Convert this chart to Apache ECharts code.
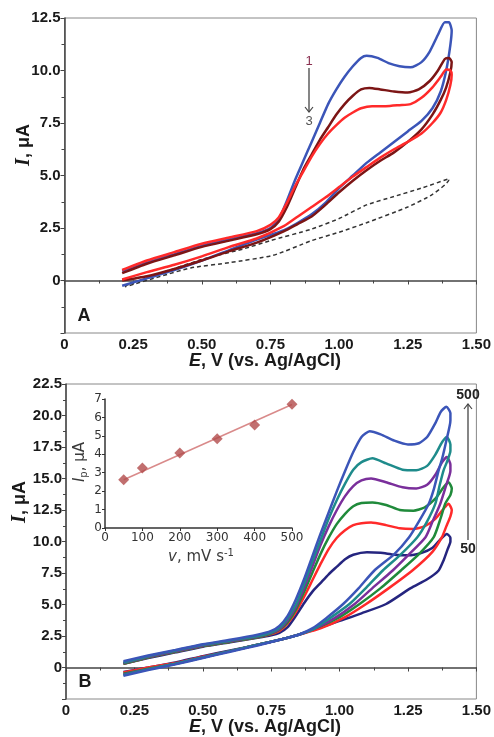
<!DOCTYPE html>
<html><head><meta charset="utf-8">
<script src="https://cdn.jsdelivr.net/npm/echarts/dist/echarts.min.js"></script>
<style>html,body{margin:0;padding:0;background:#fff}#c{width:494px;height:737px}</style>
</head><body><div id="c"></div>
<script>
// ---------- Panel A: CVs, 3 successive scans + blank ----------
const a1Fwd = [[0.21,0.45],[0.3,0.85],[0.4,1.25],[0.5,1.65],[0.6,1.95],[0.7,2.25],[0.75,2.5],[0.78,2.9],[0.81,3.8],[0.84,4.8],[0.87,5.7],[0.9,6.6],[0.93,7.5],[0.96,8.4],[0.99,9.1],[1.02,9.7],[1.05,10.2],[1.08,10.6],[1.1,10.7],[1.14,10.6],[1.18,10.35],[1.22,10.2],[1.26,10.15],[1.3,10.4],[1.33,10.9],[1.36,11.7],[1.385,12.3],[1.4,12.3],[1.41,11.9]];
const a1Rev = [[1.405,11.2],[1.39,10.0],[1.37,9.0],[1.34,8.2],[1.3,7.6],[1.25,7.1],[1.2,6.6],[1.15,6.1],[1.1,5.6],[1.05,5.0],[1.0,4.4],[0.95,3.7],[0.9,3.15],[0.85,2.75],[0.8,2.4],[0.7,1.95],[0.6,1.45],[0.5,0.95],[0.4,0.5],[0.3,0.1],[0.21,-0.25]];
const a2Fwd = [[0.21,0.35],[0.3,0.8],[0.4,1.2],[0.5,1.6],[0.6,1.9],[0.7,2.2],[0.75,2.45],[0.78,2.8],[0.81,3.5],[0.84,4.4],[0.87,5.3],[0.9,6.0],[0.93,6.7],[0.96,7.3],[0.99,7.9],[1.02,8.4],[1.05,8.8],[1.08,9.1],[1.11,9.17],[1.15,9.1],[1.2,9.0],[1.25,8.95],[1.29,9.1],[1.33,9.5],[1.36,10.0],[1.385,10.55],[1.4,10.6],[1.41,10.4]];
const a2Rev = [[1.405,9.9],[1.39,9.2],[1.37,8.6],[1.34,7.9],[1.3,7.2],[1.25,6.6],[1.2,6.1],[1.15,5.7],[1.1,5.25],[1.05,4.75],[1.0,4.2],[0.95,3.6],[0.9,3.05],[0.85,2.7],[0.8,2.35],[0.7,1.8],[0.6,1.4],[0.5,0.95],[0.4,0.55],[0.3,0.2],[0.21,0.0]];
const a3Fwd = [[0.21,0.5],[0.3,0.95],[0.4,1.35],[0.5,1.75],[0.6,2.05],[0.7,2.35],[0.75,2.65],[0.78,3.0],[0.81,3.7],[0.84,4.5],[0.87,5.2],[0.9,5.9],[0.93,6.5],[0.96,7.0],[0.99,7.4],[1.02,7.75],[1.05,8.0],[1.08,8.2],[1.12,8.3],[1.17,8.3],[1.22,8.35],[1.26,8.4],[1.3,8.7],[1.34,9.2],[1.37,9.7],[1.39,10.05],[1.405,10.0],[1.41,9.8]];
const a3Rev = [[1.405,9.3],[1.39,8.6],[1.37,8.0],[1.34,7.5],[1.3,7.0],[1.25,6.6],[1.2,6.25],[1.15,5.85],[1.1,5.4],[1.05,4.95],[1.0,4.45],[0.95,3.95],[0.9,3.5],[0.85,3.05],[0.8,2.6],[0.7,2.0],[0.6,1.6],[0.5,1.15],[0.4,0.75],[0.3,0.4],[0.21,0.05]];
const aBlankFwd = [[0.22,-0.25],[0.35,0.35],[0.5,1.0],[0.65,1.5],[0.75,1.9],[0.9,2.45],[1.0,2.95],[1.1,3.6],[1.2,4.0],[1.3,4.4],[1.4,4.85]];
const aBlankRev = [[1.4,4.8],[1.34,4.1],[1.25,3.5],[1.1,2.75],[1.0,2.3],[0.9,1.9],[0.76,1.2],[0.6,0.85],[0.46,0.6],[0.35,0.2],[0.22,-0.3]];

// ---------- Panel B: CVs at scan rates 50..500 mV/s ----------
const b500Fwd = [[0.21,0.5],[0.3,0.95],[0.4,1.4],[0.5,1.85],[0.6,2.2],[0.7,2.6],[0.75,2.9],[0.78,3.3],[0.81,4.1],[0.84,5.4],[0.87,7.0],[0.9,8.8],[0.93,10.6],[0.96,12.3],[0.99,14.0],[1.02,15.6],[1.05,17.1],[1.08,18.3],[1.11,18.75],[1.15,18.5],[1.2,18.0],[1.25,17.7],[1.29,17.8],[1.32,18.3],[1.35,19.4],[1.37,20.3],[1.39,20.7],[1.405,20.2]];
const b500Rev = [[1.405,19.6],[1.39,18.0],[1.375,16.6],[1.362,15.65],[1.345,14.2],[1.326,13.0],[1.29,11.6],[1.254,10.34],[1.2,9.0],[1.127,7.7],[1.07,6.3],[1.013,5.04],[0.95,3.9],[0.9,3.1],[0.85,2.6],[0.8,2.3],[0.7,1.75],[0.6,1.25],[0.5,0.75],[0.4,0.25],[0.3,-0.2],[0.21,-0.65]];
const b400Fwd = [[0.21,0.4],[0.3,0.9],[0.4,1.35],[0.5,1.8],[0.6,2.15],[0.7,2.5],[0.75,2.8],[0.78,3.15],[0.81,3.9],[0.84,5.0],[0.87,6.6],[0.9,8.4],[0.93,10.1],[0.96,11.8],[0.99,13.3],[1.02,14.6],[1.05,15.7],[1.08,16.3],[1.12,16.6],[1.17,16.2],[1.23,15.7],[1.28,15.65],[1.32,16.0],[1.35,16.9],[1.375,17.9],[1.392,18.3],[1.405,17.7]];
const b400Rev = [[1.405,17.2],[1.392,16.3],[1.38,15.65],[1.365,14.4],[1.35,13.0],[1.32,11.6],[1.284,10.34],[1.22,8.9],[1.158,7.7],[1.1,6.4],[1.036,5.04],[0.97,4.0],[0.9,3.0],[0.85,2.6],[0.8,2.3],[0.7,1.8],[0.6,1.3],[0.5,0.8],[0.4,0.3],[0.3,-0.15],[0.21,-0.6]];
const b300Fwd = [[0.21,0.35],[0.3,0.85],[0.4,1.3],[0.5,1.75],[0.6,2.1],[0.7,2.45],[0.75,2.75],[0.78,3.05],[0.81,3.75],[0.84,4.8],[0.87,6.3],[0.9,8.0],[0.93,9.7],[0.96,11.2],[0.99,12.5],[1.02,13.6],[1.05,14.4],[1.08,14.85],[1.115,15.0],[1.17,14.7],[1.23,14.3],[1.28,14.2],[1.32,14.5],[1.35,15.3],[1.375,16.3],[1.392,16.7],[1.405,16.1]];
const b300Rev = [[1.405,15.6],[1.39,14.5],[1.368,13.0],[1.34,11.6],[1.314,10.34],[1.25,8.9],[1.194,7.7],[1.12,6.3],[1.055,5.04],[0.98,3.9],[0.9,3.0],[0.85,2.6],[0.8,2.3],[0.7,1.8],[0.6,1.3],[0.5,0.8],[0.4,0.3],[0.3,-0.15],[0.21,-0.55]];
const b200Fwd = [[0.21,0.3],[0.3,0.8],[0.4,1.25],[0.5,1.7],[0.6,2.05],[0.7,2.4],[0.75,2.7],[0.78,3.0],[0.81,3.6],[0.84,4.6],[0.87,6.0],[0.9,7.5],[0.93,9.0],[0.96,10.3],[0.99,11.4],[1.02,12.2],[1.05,12.8],[1.08,13.05],[1.12,13.1],[1.17,12.9],[1.22,12.5],[1.27,12.45],[1.31,12.7],[1.35,13.4],[1.38,14.3],[1.398,14.7],[1.41,14.2]];
const b200Rev = [[1.405,13.7],[1.386,13.0],[1.37,11.9],[1.344,10.34],[1.29,9.0],[1.224,7.7],[1.15,6.3],[1.073,5.04],[1.0,4.0],[0.9,3.0],[0.85,2.6],[0.8,2.3],[0.7,1.8],[0.6,1.3],[0.5,0.8],[0.4,0.3],[0.3,-0.1],[0.21,-0.5]];
const b100Fwd = [[0.21,0.3],[0.3,0.8],[0.4,1.25],[0.5,1.7],[0.6,2.05],[0.7,2.4],[0.75,2.65],[0.78,2.9],[0.81,3.5],[0.84,4.4],[0.87,5.6],[0.9,6.9],[0.93,8.2],[0.96,9.4],[0.99,10.3],[1.02,10.9],[1.05,11.3],[1.08,11.45],[1.115,11.5],[1.17,11.3],[1.22,11.05],[1.27,11.0],[1.31,11.2],[1.35,11.8],[1.38,12.6],[1.398,13.0],[1.41,12.5]];
const b100Rev = [[1.405,12.0],[1.39,11.2],[1.374,10.34],[1.34,9.2],[1.266,7.7],[1.18,6.3],[1.097,5.04],[1.02,4.0],[0.93,3.1],[0.85,2.6],[0.8,2.3],[0.7,1.8],[0.6,1.3],[0.5,0.85],[0.4,0.35],[0.3,0.0],[0.21,-0.4]];
const b50Fwd = [[0.21,0.3],[0.3,0.75],[0.4,1.2],[0.5,1.65],[0.6,2.0],[0.7,2.35],[0.75,2.55],[0.78,2.75],[0.81,3.2],[0.84,4.1],[0.87,5.1],[0.9,6.0],[0.93,6.7],[0.96,7.4],[0.99,8.0],[1.02,8.6],[1.05,8.95],[1.1,9.15],[1.15,9.1],[1.2,8.95],[1.25,8.9],[1.3,9.1],[1.34,9.5],[1.37,10.2],[1.392,10.6],[1.405,10.3]];
const b50Rev = [[1.405,10.0],[1.395,9.4],[1.38,8.5],[1.362,7.7],[1.32,7.0],[1.26,6.3],[1.17,5.04],[1.08,4.3],[1.0,3.7],[0.9,2.95],[0.85,2.6],[0.8,2.3],[0.7,1.8],[0.6,1.35],[0.5,0.9],[0.4,0.4],[0.3,0.0],[0.21,-0.35]];

// ---------- Inset: peak current vs scan rate ----------
const scanRates = [50, 100, 200, 300, 400, 500];
const peakCurrents = [2.62, 3.25, 4.07, 4.84, 5.59, 6.72];
const fitRates = [50, 500];
const fitCurrents = [2.62, 6.7];

const chart = echarts.init(document.getElementById('c'), null, {renderer: 'canvas'});
const FONT = 'Liberation Sans, Arial, sans-serif';
const TXT = '#1a1a1a';

function mainX(gi) {
  return {
    gridIndex: gi, type: 'value', min: 0, max: 1.5, interval: 0.25,
    axisLine: {show: true, lineStyle: {color: '#444', width: 1.5}},
    axisTick: {show: true, length: 4, lineStyle: {color: '#444'}},
    minorTick: {show: true, splitNumber: 2, length: 3, lineStyle: {color: '#444'}},
    splitLine: {show: false},
    axisLabel: {fontFamily: FONT, fontWeight: 'bold', fontSize: 15, color: TXT, margin: 4,
      formatter: v => v === 0 ? '0' : v.toFixed(2)}
  };
}
function mainY(gi, max) {
  return {
    gridIndex: gi, type: 'value', min: -2.5, max: max, interval: 2.5,
    axisLine: {show: true, lineStyle: {color: '#444', width: 1.5}},
    axisTick: {show: true, length: 4, lineStyle: {color: '#444'}},
    minorTick: {show: true, splitNumber: 2, length: 3, lineStyle: {color: '#444'}},
    splitLine: {show: false},
    axisLabel: {fontFamily: FONT, fontWeight: 'bold', fontSize: 15, color: TXT, margin: 4,
      formatter: v => v < 0 ? '' : (v === 0 ? '0' : v.toFixed(1))}
  };
}
function cv(name, gi, fwd, rev, color, z, dashed) {
  return {
    name: name, type: 'line', xAxisIndex: gi, yAxisIndex: gi,
    data: fwd.concat(rev), showSymbol: false, smooth: 0.2, z: z,
    lineStyle: {color: color, width: dashed ? 1.5 : 2.5, type: dashed ? [4, 3] : 'solid'},
    silent: true
  };
}

const insetPoints = scanRates.map((v, i) => [v, peakCurrents[i]]);
const insetFit = fitRates.map((v, i) => [v, fitCurrents[i]]);

const titleRich = {
  i: {fontFamily: FONT, fontWeight: 'bold', fontStyle: 'italic', fontSize: 18, fill: TXT},
  n: {fontFamily: FONT, fontWeight: 'bold', fontSize: 18, fill: TXT}
};
const yTitleRich = {
  i: {fontFamily: 'Liberation Serif, serif', fontWeight: 'bold', fontStyle: 'italic', fontSize: 20, fill: TXT},
  n: {fontFamily: FONT, fontWeight: 'bold', fontSize: 18, fill: TXT}
};

const option = {
  animation: false,
  backgroundColor: '#fff',
  grid: [
    {left: 64.5, right: 13, top: 18, bottom: 404, show: true, borderColor: '#888', borderWidth: 1},
    {left: 66, right: 12, top: 384, bottom: 38, show: true, borderColor: '#888', borderWidth: 1},
    {left: 105, right: 202, top: 399, bottom: 209, show: false}
  ],
  xAxis: [
    mainX(0), mainX(1),
    {gridIndex: 2, type: 'value', min: 0, max: 500, interval: 100,
      axisLine: {show: true, lineStyle: {color: '#333', width: 1.5}},
      axisTick: {show: true, length: 3, lineStyle: {color: '#333'}},
      splitLine: {show: false},
      axisLabel: {fontFamily: 'DejaVu Sans, Verdana, sans-serif', fontSize: 12, color: '#333', margin: 4}}
  ],
  yAxis: [
    mainY(0, 12.5), mainY(1, 22.5),
    {gridIndex: 2, type: 'value', min: 0, max: 7, interval: 1,
      axisLine: {show: true, lineStyle: {color: '#333', width: 1.5}},
      axisTick: {show: true, length: 3, lineStyle: {color: '#333'}},
      splitLine: {show: false},
      axisLabel: {fontFamily: 'DejaVu Sans, Verdana, sans-serif', fontSize: 12, color: '#333', margin: 3}}
  ],
  series: [
    cv('blank', 0, aBlankFwd, aBlankRev, '#333', 2, true),
    cv('scan 1', 0, a1Fwd, a1Rev, '#3b55b8', 3),
    cv('scan 2', 0, a2Fwd, a2Rev, '#7c1515', 4),
    cv('scan 3', 0, a3Fwd, a3Rev, '#ff2a2a', 5),
    cv('50', 1, b50Fwd, b50Rev, '#25257f', 3),
    cv('100', 1, b100Fwd, b100Rev, '#ff2a2a', 4),
    cv('200', 1, b200Fwd, b200Rev, '#1f8a3a', 5),
    cv('300', 1, b300Fwd, b300Rev, '#7a2f9b', 6),
    cv('400', 1, b400Fwd, b400Rev, '#1e8b8b', 7),
    cv('500', 1, b500Fwd, b500Rev, '#3b55b8', 8),
    {name: 'fit', type: 'line', xAxisIndex: 2, yAxisIndex: 2, data: insetFit, showSymbol: false,
      lineStyle: {color: '#d98a8a', width: 1.5}, z: 10},
    {name: 'Ip', type: 'scatter', xAxisIndex: 2, yAxisIndex: 2, data: insetPoints,
      symbol: 'diamond', symbolSize: 11, itemStyle: {color: '#b24b4b'}, z: 11}
  ],
  graphic: [
    {type: 'text', x: 265, y: 361, style: {text: '{i|E}{n|, V (vs. Ag/AgCl)}', textAlign: 'center', textVerticalAlign: 'middle', rich: titleRich}},
    {type: 'text', x: 265, y: 727, style: {text: '{i|E}{n|, V (vs. Ag/AgCl)}', textAlign: 'center', textVerticalAlign: 'middle', rich: titleRich}},
    {type: 'text', x: 24, y: 145, rotation: Math.PI / 2, style: {text: '{i|I}{n|, μA}', textAlign: 'center', textVerticalAlign: 'middle', rich: yTitleRich}},
    {type: 'text', x: 20, y: 502, rotation: Math.PI / 2, style: {text: '{i|I}{n|, μA}', textAlign: 'center', textVerticalAlign: 'middle', rich: yTitleRich}},
    {type: 'text', x: 84, y: 316, style: {text: 'A', font: 'bold 18px ' + FONT, fill: TXT, textAlign: 'center', textVerticalAlign: 'middle'}},
    {type: 'text', x: 85, y: 682, style: {text: 'B', font: 'bold 18px ' + FONT, fill: TXT, textAlign: 'center', textVerticalAlign: 'middle'}},
    {type: 'text', x: 309, y: 61, style: {text: '1', font: '13px ' + FONT, fill: '#8a3050', textAlign: 'center', textVerticalAlign: 'middle'}},
    {type: 'line', shape: {x1: 309, y1: 68, x2: 309, y2: 112}, style: {stroke: '#444', lineWidth: 1.3}},
    {type: 'polyline', shape: {points: [[305, 107], [309, 112], [313, 107]]}, style: {stroke: '#444', lineWidth: 1.2, fill: null}},
    {type: 'text', x: 309, y: 121, style: {text: '3', font: '13px ' + FONT, fill: '#555', textAlign: 'center', textVerticalAlign: 'middle'}},
    {type: 'text', x: 468, y: 395, style: {text: '500', font: 'bold 14px ' + FONT, fill: '#222', textAlign: 'center', textVerticalAlign: 'middle'}},
    {type: 'line', shape: {x1: 468, y1: 540, x2: 468, y2: 404}, style: {stroke: '#444', lineWidth: 1.3}},
    {type: 'polyline', shape: {points: [[464, 409], [468, 404], [472, 409]]}, style: {stroke: '#444', lineWidth: 1.2, fill: null}},
    {type: 'text', x: 468, y: 549, style: {text: '50', font: 'bold 14px ' + FONT, fill: '#222', textAlign: 'center', textVerticalAlign: 'middle'}},
    {type: 'text', x: 80, y: 462, rotation: Math.PI / 2, style: {text: '{i|I}{s|p}{n|, μA}', textAlign: 'center', textVerticalAlign: 'middle',
      rich: {i: {fontFamily: 'DejaVu Sans, sans-serif', fontStyle: 'italic', fontSize: 15, fill: '#3a3a3a', lineHeight: 18},
             s: {fontFamily: 'DejaVu Sans, sans-serif', fontSize: 10, fill: '#3a3a3a', verticalAlign: 'bottom', lineHeight: 18},
             n: {fontFamily: 'DejaVu Sans, sans-serif', fontSize: 15, fill: '#3a3a3a', lineHeight: 18}}}},
    {type: 'text', x: 201, y: 557, style: {text: '{i|v}{n|, mV s}{s|-1}', textAlign: 'center', textVerticalAlign: 'middle',
      rich: {i: {fontFamily: 'DejaVu Sans, sans-serif', fontStyle: 'italic', fontSize: 15, fill: '#3a3a3a', lineHeight: 18},
             s: {fontFamily: 'DejaVu Sans, sans-serif', fontSize: 10, fill: '#3a3a3a', verticalAlign: 'top', lineHeight: 18},
             n: {fontFamily: 'DejaVu Sans, sans-serif', fontSize: 15, fill: '#3a3a3a', lineHeight: 18}}}}
  ]
};
chart.setOption(option);
</script></body></html>
